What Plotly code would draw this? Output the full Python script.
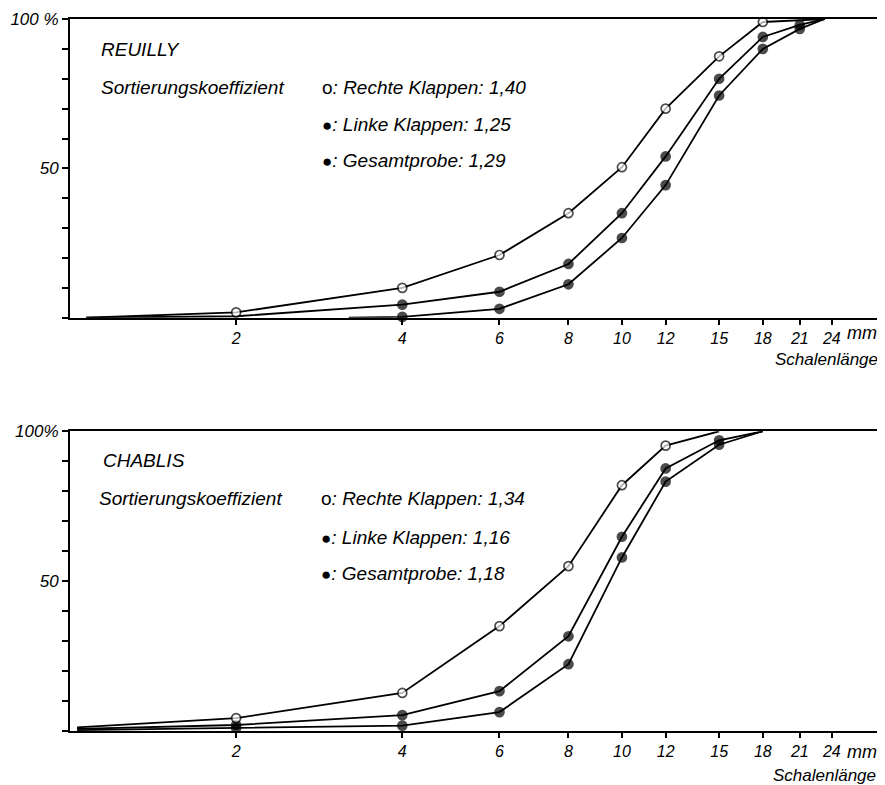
import plotly.graph_objects as go

# ---------------- data ----------------
tick_vals = [2, 4, 6, 8, 10, 12, 15, 18, 21, 24]
tick_labels = ["2", "4", "6", "8", "10", "12", "15", "18", "21", "24"]
y_tick_vals = [0, 10, 20, 30, 40, 50, 60, 70, 80, 90, 100]

# REUILLY (cumulative %, shell length mm)
reu_rechte_x = [1.07, 2, 4, 6, 8, 10, 12, 15, 18, 23.3]
reu_rechte_y = [0, 1.8, 10, 21, 35, 50.4, 70, 87.5, 99, 100]
reu_linke_x = [1.07, 2, 4, 6, 8, 10, 12, 15, 18, 21, 23.3]
reu_linke_y = [0, 0.5, 4.4, 8.7, 18, 35, 54, 80, 94, 98, 100]
reu_gesamt_x = [3.2, 4, 6, 8, 10, 12, 15, 18, 21, 23.3]
reu_gesamt_y = [0, 0.3, 3, 11.2, 26.7, 44.4, 74.4, 90, 96.7, 100]

# CHABLIS
cha_rechte_x = [1.03, 2, 4, 6, 8, 10, 12, 15]
cha_rechte_y = [1.2, 4.3, 12.7, 35, 55, 82, 95.2, 100]
cha_linke_x = [1.03, 2, 4, 6, 8, 10, 12, 15, 18]
cha_linke_y = [0.7, 2.0, 5.3, 13.3, 31.6, 64.8, 87.6, 97, 100]
cha_gesamt_x = [1.03, 2, 4, 6, 8, 10, 12, 15, 18]
cha_gesamt_y = [0.3, 1.0, 1.8, 6.3, 22.3, 57.9, 83.2, 95.5, 100]

reu_legend = ["Rechte Klappen: 1,40", "Linke Klappen: 1,25", "Gesamtprobe: 1,29"]
cha_legend = ["Rechte Klappen: 1,34", "Linke Klappen: 1,16", "Gesamtprobe: 1,18"]

# ---------------- layout geometry ----------------
OFF = 8                      # page body margin offset
W, H = 885 - OFF, 785 - OFF
ML, MR, MT, MB = 60 - OFF, 2, 16 - OFF, 54
PW = W - ML - MR
PH = H - MT - MB
FONT = "Liberation Sans, Arial, sans-serif"


def px_x(p):
    # p = target pixel in the final page
    return (p - OFF - ML) / PW


def px_y(p):
    return (H - MB - (p - OFF)) / PH


top_dom = [px_y(316), 1.0]
bot_dom = [0.0, px_y(430)]


def marker_sizes(n, hidden):
    return [0 if i in hidden else 9 for i in range(n)]


fig = go.Figure()


def add_series(x, y, xa, ya, filled, hidden):
    n = len(x)
    fig.add_trace(go.Scatter(
        x=x, y=y, xaxis=xa, yaxis=ya, mode="lines+markers",
        line=dict(color="black", width=1.8),
        marker=dict(size=marker_sizes(n, hidden), symbol="circle",
                    color="black" if filled else "white",
                    line=dict(color="black", width=1.7)),
        cliponaxis=False, showlegend=False, hoverinfo="skip"))


# top panel
add_series(reu_gesamt_x, reu_gesamt_y, "x", "y", True, {0, len(reu_gesamt_x) - 1})
add_series(reu_linke_x, reu_linke_y, "x", "y", True, {0, 1, len(reu_linke_x) - 1})
add_series(reu_rechte_x, reu_rechte_y, "x", "y", False, {0, len(reu_rechte_x) - 1})
# bottom panel
add_series(cha_gesamt_x, cha_gesamt_y, "x2", "y2", True, {0, len(cha_gesamt_x) - 1})
add_series(cha_linke_x, cha_linke_y, "x2", "y2", True, {0, len(cha_linke_x) - 1})
add_series(cha_rechte_x, cha_rechte_y, "x2", "y2", False, {0, len(cha_rechte_x) - 1})

xaxis_common = dict(
    type="log", range=[0, 1.473], domain=[0, 1],
    tickvals=tick_vals, ticktext=["<i>%s</i>" % t for t in tick_labels],
    ticks="outside", ticklen=5, tickwidth=1.5, tickcolor="black",
    showline=True, linewidth=2, linecolor="black", mirror=True,
    showgrid=False, zeroline=False,
    tickfont=dict(family=FONT, size=16, color="black"),
)


def yaxis_common(dom, top_label):
    labels = [""] * 11
    labels[5] = "<i>50</i>"
    labels[10] = "<i>%s</i>" % top_label
    return dict(
        range=[0, 100], domain=dom, tickvals=y_tick_vals, ticktext=labels,
        ticks="outside", ticklen=6, tickwidth=1.5, tickcolor="black",
        showline=True, linewidth=2, linecolor="black",
        showgrid=False, zeroline=False,
        tickfont=dict(family=FONT, size=17, color="black"),
    )


ann = []
SHIFT = -6


def text(xp, yp, s, size=19, anchor="left"):
    ann.append(dict(x=px_x(xp + SHIFT), y=px_y(yp), xref="paper", yref="paper",
                    text=s, showarrow=False, xanchor=anchor, yanchor="middle",
                    font=dict(family=FONT, size=size, color="black")))


dot = "<span style='font-size:17px'>●</span>"
circ = "o"

# top panel texts
text(95, 47, "<i>REUILLY</i>")
text(95, 85, "<i>Sortierungskoeffizient</i>")
for row_y, sym, lab in zip([85, 122, 158], [circ, dot, dot], reu_legend):
    text(319, row_y, "%s<i>: %s</i>" % (sym, lab))
text(868, 331, "<i>mm</i>", size=18, anchor="center")
text(886, 358, "<i>Schalenlänge</i>", size=17, anchor="right")

# bottom panel texts
text(97, 459, "<i>CHABLIS</i>")
text(93, 498, "<i>Sortierungskoeffizient</i>")
for row_y, sym, lab in zip([498, 537, 573], [circ, dot, dot], cha_legend):
    text(318, row_y, "%s<i>: %s</i>" % (sym, lab))
text(868, 752, "<i>mm</i>", size=18, anchor="center")
text(884, 776, "<i>Schalenlänge</i>", size=17, anchor="right")

fig.update_layout(
    width=W, height=H,
    margin=dict(l=ML, r=MR, t=MT, b=MB),
    paper_bgcolor="white", plot_bgcolor="white",
    xaxis=dict(anchor="y", **xaxis_common),
    yaxis=dict(anchor="x", **yaxis_common(top_dom, "100 %")),
    xaxis2=dict(anchor="y2", **xaxis_common),
    yaxis2=dict(anchor="x2", **yaxis_common(bot_dom, "100%")),
    annotations=ann,
)

fig.write_html("out.html")
